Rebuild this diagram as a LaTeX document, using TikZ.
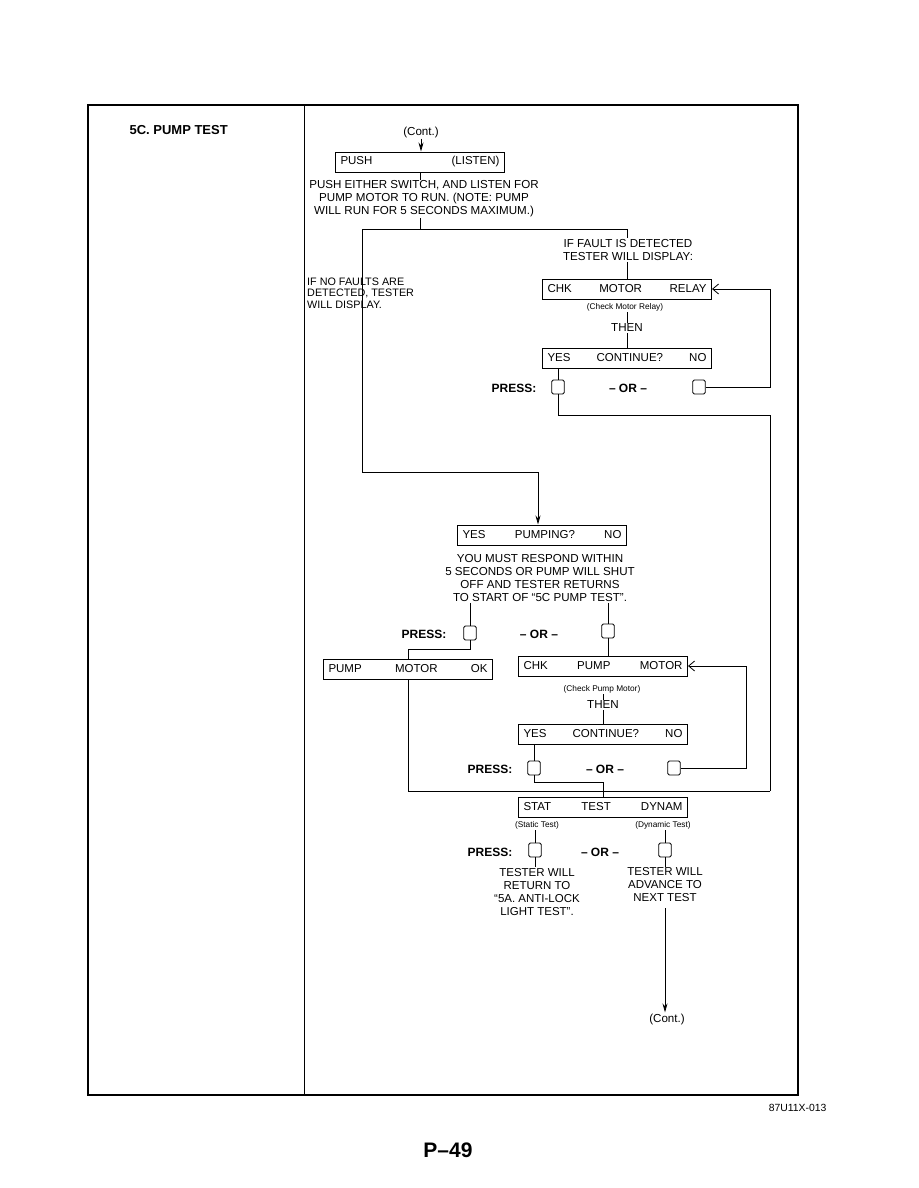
\documentclass[tikz,border=0pt]{standalone}
\usepackage{fontspec}
\setmainfont{Liberation Sans}
\usetikzlibrary{arrows.meta}

\begin{document}
\begin{tikzpicture}[x=1pt, y=-1pt, font=\fontsize{11.6}{13}\selectfont,
    lcd/.style={draw, line width=1pt, minimum height=20pt, text width=159pt,
      inner xsep=5pt, inner ysep=2pt, font=\fontsize{11.5}{13}\selectfont},
    btn/.style={draw, line width=0.8pt, rounded corners=1.5pt,
      minimum width=12.5pt, minimum height=14pt, inner sep=0pt},
    note/.style={align=center, inner sep=1pt},
    small/.style={font=\fontsize{8.3}{9}\selectfont, inner sep=1pt},
    bold/.style={font=\fontsize{12}{14}\bfseries},
    wire/.style={line width=0.8pt},
    down/.style={wire, -{Stealth[length=9pt, width=5pt]}},
    back/.style={wire, -{Straight Barb[length=6pt, width=10pt]}}]
    \useasboundingbox (0,0) rectangle (918,1188);
    \fill[white] (0,0) rectangle (918,1188);
    %% --- Page frame ---
    \draw[line width=1.1pt] (88,105) rectangle (798,1095);
    \draw[line width=1pt] (304,105) -- (304,1095);
    \node[font=\fontsize{13}{15}\bfseries, anchor=west] (title) at (126,130) {5C. PUMP TEST};
    \node[font=\fontsize{10.4}{12}\selectfont, anchor=east] (figid) at (830,1108) {87U11X-013};
    \node[font=\fontsize{21}{24}\bfseries] (page) at (448,1150) {P–49};
    %% --- Push and listen ---
    \node[inner sep=1pt] (contin) at (421,132) {(Cont.)};
    \node[lcd] (push) at (420,162) {PUSH\hfill(LISTEN)};
    \node[note] (pushnote) at (424,199)
      {PUSH EITHER SWITCH, AND LISTEN FOR\\PUMP MOTOR TO RUN. (NOTE: PUMP\\WILL RUN FOR 5 SECONDS MAXIMUM.)};
    \draw[down] (contin.south) -- (contin.south |- push.north);
    \draw[wire] (push.south) -- (push.south |- pushnote.north);
    \coordinate (split) at (420,229);
    \draw[wire] (pushnote.south -| split) -- (split);
    %% --- Fault branch: check motor relay ---
    \node[note] (faultnote) at (628,250) {IF FAULT IS DETECTED\\TESTER WILL DISPLAY:};
    \node[lcd] (chkrelay) at (627,289) {CHK\hfill MOTOR\hfill RELAY};
    \node[small] (relaynote) at (625,307) {(Check Motor Relay)};
    \node[inner sep=1pt] (then1) at (627,328) {THEN};
    \node[lcd] (cont1) at (627,358) {YES\hfill CONTINUE?\hfill NO};
    \node[bold] (press1) at (514,388) {PRESS:};
    \node[btn] (yes1) at (558,387) {};
    \node[bold] (or1) at (628,388) {– OR –};
    \node[btn] (no1) at (699,387) {};
    \draw[wire] (split) -| (faultnote.north -| chkrelay.north);
    \draw[wire] (faultnote.south -| chkrelay.north) -- (chkrelay.north);
    \draw[wire] (relaynote.south -| then1.north) -- (then1.north);
    \draw[wire] (then1.south) -- (cont1.north);
    \draw[wire] (cont1.south -| yes1) -- (yes1.north);
    \draw[back] (no1.east) -- ++(65,0) |- (chkrelay.east);
    \coordinate (rbus) at (770,791);
    \draw[wire] (yes1.south) -- ++(0,21) -| (rbus);
    %% --- No fault branch: pumping? ---
    \node[note, align=left, anchor=west, font=\fontsize{10.8}{11.5}\selectfont] (nofault) at (306,293)
      {IF NO FAULTS ARE\\DETECTED, TESTER\\WILL DISPLAY.};
    \coordinate (nfturn) at (362,472);
    \coordinate (pumpin) at (538,472);
    \node[lcd] (pumping) at (542,535) {YES\hfill PUMPING?\hfill NO};
    \draw[wire] (split) -| (nfturn) -- (pumpin);
    \draw[down] (pumpin) -- (pumpin |- pumping.north);
    \node[note] (respnote) at (540,578)
      {YOU MUST RESPOND WITHIN\\5 SECONDS OR PUMP WILL SHUT\\OFF AND TESTER RETURNS\\TO START OF ``5C PUMP TEST''.};
    \node[bold] (press2) at (424,634) {PRESS:};
    \node[btn] (yes2) at (470,633) {};
    \node[bold] (or2) at (539,634) {– OR –};
    \node[btn] (no2) at (608,631) {};
    \draw[wire] (respnote.south -| yes2) -- (yes2.north);
    \draw[wire] (respnote.south -| no2) -- (no2.north);
    %% --- Pump motor ok / check pump motor ---
    \node[lcd] (pumpok) at (408,669) {PUMP\hfill MOTOR\hfill OK};
    \node[lcd] (chkpump) at (603,666) {CHK\hfill PUMP\hfill MOTOR};
    \node[small] (pumpnote) at (602,689) {(Check Pump Motor)};
    \node[inner sep=1pt] (then2) at (603,705) {THEN};
    \node[lcd] (cont2) at (603,734) {YES\hfill CONTINUE?\hfill NO};
    \node[bold] (press3) at (490,769) {PRESS:};
    \node[btn] (yes3) at (534,768) {};
    \node[bold] (or3) at (605,769) {– OR –};
    \node[btn] (no3) at (674,768) {};
    \draw[wire] (yes2.south) -- ++(0,9) -| (pumpok.north);
    \draw[wire] (no2.south) -- (no2.south |- chkpump.north);
    \draw[wire] (pumpnote.south -| then2.north) -- (then2.north);
    \draw[wire] (then2.south) -- (cont2.north);
    \draw[wire] (cont2.south -| yes3) -- (yes3.north);
    \draw[back] (no3.east) -- ++(66,0) |- (chkpump.east);
    %% --- Static / dynamic test ---
    \node[lcd] (statdyn) at (603,807) {STAT\hfill TEST\hfill DYNAM};
    \draw[wire] (yes3.south) -- ++(0,7) -| (statdyn.north);
    \draw[wire] (pumpok.south) |- (rbus);
    \node[small] (statnote) at (537,825) {(Static Test)};
    \node[small] (dynnote) at (663,825) {(Dynamic Test)};
    \node[bold] (press4) at (490,852) {PRESS:};
    \node[btn] (stat) at (535,850) {};
    \node[bold] (or4) at (600,852) {– OR –};
    \node[btn] (dyn) at (665,850) {};
    \node[note, font=\fontsize{11.5}{13.3}\selectfont] (retnote) at (537,892)
      {TESTER WILL\\RETURN TO\\``5A. ANTI-LOCK\\LIGHT TEST''.};
    \node[note, font=\fontsize{11.5}{13}\selectfont] (advnote) at (665,885)
      {TESTER WILL\\ADVANCE TO\\NEXT TEST};
    \node[inner sep=1pt] (contout) at (667,1019) {(Cont.)};
    \draw[wire] (statnote.south -| stat) -- (stat.north);
    \draw[wire] (dynnote.south -| dyn) -- (dyn.north);
    \draw[wire] (stat.south) -- (stat.south |- retnote.north);
    \draw[wire] (dyn.south) -- (dyn.south |- advnote.north);
    \draw[down] (advnote.south) ++(0,5) -- (advnote.south |- contout.north);
  \end{tikzpicture}
\end{document}
